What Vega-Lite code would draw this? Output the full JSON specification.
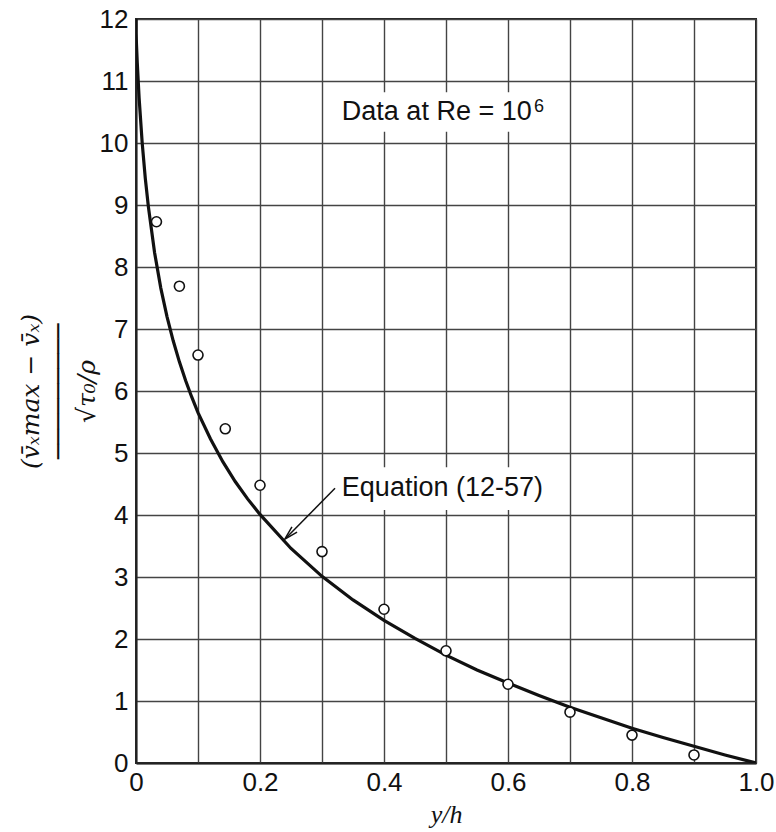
{
  "$schema": "https://vega.github.io/schema/vega-lite/v6.json",
  "width": 620,
  "height": 744,
  "autosize": "none",
  "padding": {"left": 136, "top": 19, "right": 20, "bottom": 69},
  "background": "white",
  "config": {
    "view": {"stroke": "#222", "strokeWidth": 2},
    "font": "Liberation Sans",
    "axis": {
      "grid": true,
      "gridColor": "#444",
      "gridWidth": 1.4,
      "gridOpacity": 1,
      "domainColor": "#222",
      "domainWidth": 2,
      "ticks": false,
      "labelFont": "Liberation Sans",
      "labelFontSize": 26,
      "labelColor": "#111",
      "titleColor": "#111",
      "titleFontWeight": "normal"
    }
  },
  "datasets": {
    "curve": [
      {"x": 0.0, "y": 12.0}, {"x": 0.0, "y": 11.77}, {"x": 0.002, "y": 11.3},
      {"x": 0.005, "y": 10.73}, {"x": 0.01, "y": 10.0}, {"x": 0.015, "y": 9.43},
      {"x": 0.02, "y": 8.97}, {"x": 0.03, "y": 8.23}, {"x": 0.04, "y": 7.66},
      {"x": 0.05, "y": 7.2}, {"x": 0.06, "y": 6.81}, {"x": 0.07, "y": 6.47},
      {"x": 0.08, "y": 6.17}, {"x": 0.09, "y": 5.9}, {"x": 0.1, "y": 5.65},
      {"x": 0.12, "y": 5.23}, {"x": 0.14, "y": 4.86}, {"x": 0.16, "y": 4.54},
      {"x": 0.18, "y": 4.26}, {"x": 0.2, "y": 4.01}, {"x": 0.25, "y": 3.46},
      {"x": 0.3, "y": 3.01}, {"x": 0.35, "y": 2.63}, {"x": 0.4, "y": 2.3},
      {"x": 0.45, "y": 2.01}, {"x": 0.5, "y": 1.74}, {"x": 0.55, "y": 1.5},
      {"x": 0.6, "y": 1.29}, {"x": 0.65, "y": 1.09}, {"x": 0.7, "y": 0.9},
      {"x": 0.75, "y": 0.73}, {"x": 0.8, "y": 0.56}, {"x": 0.85, "y": 0.41},
      {"x": 0.9, "y": 0.27}, {"x": 0.95, "y": 0.13}, {"x": 1.0, "y": 0.0}
    ],
    "points": [
      {"x": 0.033, "y": 8.73}, {"x": 0.07, "y": 7.69}, {"x": 0.1, "y": 6.58},
      {"x": 0.144, "y": 5.39}, {"x": 0.2, "y": 4.48}, {"x": 0.3, "y": 3.41},
      {"x": 0.4, "y": 2.48}, {"x": 0.5, "y": 1.81}, {"x": 0.6, "y": 1.27},
      {"x": 0.7, "y": 0.82}, {"x": 0.8, "y": 0.45}, {"x": 0.9, "y": 0.13}
    ],
    "boxes": [
      {"x": 0.312, "x2": 0.684, "y": 10.18, "y2": 10.82},
      {"x": 0.326, "x2": 0.68, "y": 4.08, "y2": 4.77}
    ],
    "arrow": [{"x": 0.321, "y": 4.43, "x2": 0.242, "y2": 3.63}],
    "arrowhead": [{"x": 0.24, "y": 3.61}],
    "note1": [{"x": 0.332, "y": 10.37, "label": "Data at Re = 10"}],
    "note1sup": [{"x": 0.642, "y": 10.5, "label": "6"}],
    "note2": [{"x": 0.332, "y": 4.44, "label": "Equation (12-57)"}]
  },
  "encoding": {
    "x": {
      "field": "x",
      "type": "quantitative",
      "scale": {"domain": [0, 1], "nice": false, "zero": false},
      "axis": {
        "values": [0, 0.1, 0.2, 0.3, 0.4, 0.5, 0.6, 0.7, 0.8, 0.9, 1.0],
        "labelExpr": "round(datum.value*10)%2==0 ? (datum.value==0 ? '0' : format(datum.value, '.1f')) : ''",
        "labelPadding": 6,
        "labelFlush": false,
        "title": "y/h",
        "titleFont": "Liberation Serif",
        "titleFontStyle": "italic",
        "titleFontSize": 26,
        "titlePadding": 6
      }
    },
    "y": {
      "field": "y",
      "type": "quantitative",
      "scale": {"domain": [0, 12], "nice": false, "zero": false},
      "axis": {
        "values": [0, 1, 2, 3, 4, 5, 6, 7, 8, 9, 10, 11, 12],
        "labelPadding": 8,
        "labelFlush": false,
        "title": ["(v̄ₓmax − v̄ₓ)", "─────────", "√τ₀/ρ"],
        "titleFont": "DejaVu Serif",
        "titleFontStyle": "italic",
        "titleFontSize": 25,
        "titleLineHeight": 28,
        "titlePadding": 0
      }
    }
  },
  "layer": [
    {
      "data": {"name": "boxes"},
      "mark": {"type": "rect", "fill": "white", "stroke": null},
      "encoding": {"x2": {"field": "x2"}, "y2": {"field": "y2"}}
    },
    {
      "data": {"name": "curve"},
      "mark": {"type": "line", "color": "#111", "strokeWidth": 3.2, "interpolate": "linear", "clip": true},
      "encoding": {"order": {"value": null}}
    },
    {
      "data": {"name": "points"},
      "mark": {"type": "point", "shape": "circle", "filled": true, "fill": "white", "stroke": "#111", "strokeWidth": 1.6, "size": 100, "opacity": 1}
    },
    {
      "data": {"name": "arrow"},
      "mark": {"type": "rule", "color": "#111", "strokeWidth": 1.5},
      "encoding": {"x2": {"field": "x2"}, "y2": {"field": "y2"}}
    },
    {
      "data": {"name": "arrowhead"},
      "mark": {"type": "point", "shape": "M-0.45,1.7L0,0L0.45,1.7", "filled": false, "stroke": "#111", "strokeWidth": 1.5, "size": 260, "angle": 225, "opacity": 1}
    },
    {
      "data": {"name": "note1"},
      "mark": {"type": "text", "align": "left", "baseline": "alphabetic", "font": "Liberation Sans", "fontSize": 27, "color": "#111"},
      "encoding": {"text": {"field": "label"}}
    },
    {
      "data": {"name": "note1sup"},
      "mark": {"type": "text", "align": "left", "baseline": "alphabetic", "font": "Liberation Sans", "fontSize": 18, "color": "#111"},
      "encoding": {"text": {"field": "label"}}
    },
    {
      "data": {"name": "note2"},
      "mark": {"type": "text", "align": "left", "baseline": "middle", "font": "Liberation Sans", "fontSize": 27, "color": "#111"},
      "encoding": {"text": {"field": "label"}}
    }
  ]
}
